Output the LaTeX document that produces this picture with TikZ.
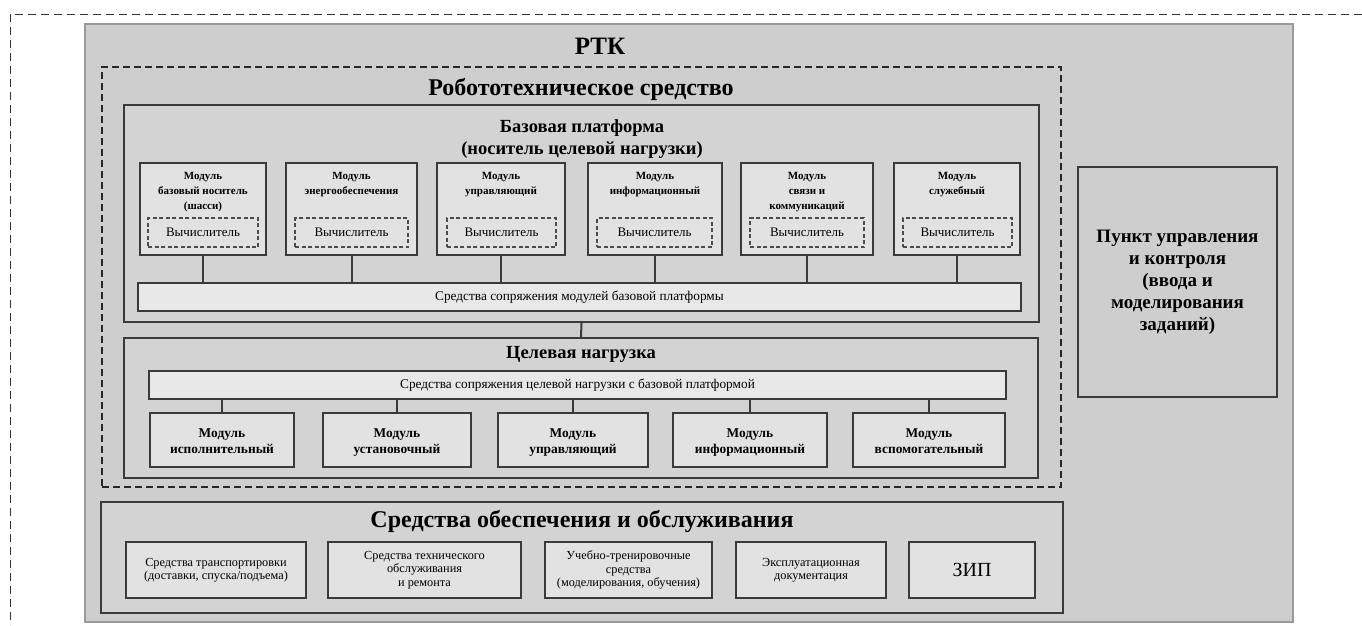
\documentclass[tikz,border=0pt]{standalone}
\usepackage{fontspec}
\setmainfont{Liberation Serif}
\usetikzlibrary{fit}
\definecolor{panelc}{HTML}{CECECE}
\definecolor{panelb}{HTML}{9A9A9A}
\definecolor{secc}{HTML}{D3D3D3}
\definecolor{modc}{HTML}{E2E2E2}
\definecolor{barc}{HTML}{E8E8E8}
\definecolor{linec}{HTML}{3A3A3A}
\tikzset{
  panel/.style={draw=panelb, line width=1.5pt, fill=panelc, inner sep=0pt},
  rtsbox/.style={draw=black!85, line width=2pt, dash pattern=on 7pt off 4pt, inner sep=0pt},
  section/.style={draw=linec, line width=1.8pt, fill=secc, inner sep=0pt},
  modbox/.style={draw=linec, line width=1.8pt, fill=modc, inner sep=0pt},
  calcbox/.style={draw=black!70, line width=1.3pt, dash pattern=on 4pt off 2.5pt, inner sep=0pt},
  barbox/.style={draw=linec, line width=1.6pt, fill=barc, inner sep=0pt},
  conn/.style={draw=linec, line width=2pt},
  bigtitle/.style={font=\bfseries\fontsize{25}{27}\selectfont, inner sep=0pt},
  title/.style={font=\bfseries\fontsize{24}{26}\selectfont, inner sep=0pt},
  subtitle/.style={font=\bfseries\fontsize{18.5}{22}\selectfont, inner sep=0pt, align=center},
  modtext/.style={font=\bfseries\fontsize{11}{15}\selectfont, inner sep=0pt, align=center, anchor=north},
  calctext/.style={font=\fontsize{13}{14}\selectfont, inner sep=0pt},
  bartext/.style={font=\fontsize{13.3}{15}\selectfont, inner sep=0pt},
  tmodtext/.style={font=\bfseries\fontsize{13.4}{15.5}\selectfont, inner sep=0pt, align=center, anchor=north},
  smalltext/.style={font=\fontsize{12.3}{13.5}\selectfont, inner sep=0pt, align=center},
  ziptext/.style={font=\fontsize{20}{22}\selectfont, inner sep=0pt},
  punkttext/.style={font=\bfseries\fontsize{19}{22}\selectfont, inner sep=0pt, align=center}
}
\begin{document}
\begin{tikzpicture}[x=1pt,y=-1pt]
\useasboundingbox (0,0) rectangle (1362,625);
\fill[white] (0,0) rectangle (1362,625);
% outer dashed frame (cropped)
\draw[black!80, line width=1pt, dash pattern=on 8pt off 5pt] (1362,14) -- (10,14) -- (10,625);
% main grey panel
\node[panel, fit={(85,24) (1293,622)}] (rtk) {};
\node[bigtitle] (rtkt) at (600,46) {РТК};
% robotic means
\node[rtsbox, fit={(102,67) (1061,487)}] (rts) {};
\node[title] (rtst) at (581,89) {Робототехническое средство};
% base platform
\node[section, fit={(124,105) (1039,322)}] (base) {};
\node[subtitle] (baset) at (582,139) {Базовая платформа\\(носитель целевой нагрузки)};
% base modules
\node[modbox, fit={(140,163) (266,255)}] (bm1) {};
\node[modbox, fit={(286,163) (417,255)}] (bm2) {};
\node[modbox, fit={(437,163) (565,255)}] (bm3) {};
\node[modbox, fit={(588,163) (722,255)}] (bm4) {};
\node[modbox, fit={(741,163) (873,255)}] (bm5) {};
\node[modbox, fit={(894,163) (1020,255)}] (bm6) {};
\node[modtext] (bm1t) at (203,172) {Модуль\\базовый носитель\\(шасси)};
\node[modtext] (bm2t) at (351.5,172) {Модуль\\энергообеспечения};
\node[modtext] (bm3t) at (501,172) {Модуль\\управляющий};
\node[modtext] (bm4t) at (655,172) {Модуль\\информационный};
\node[modtext] (bm5t) at (807,172) {Модуль\\связи и\\коммуникаций};
\node[modtext] (bm6t) at (957,172) {Модуль\\служебный};
\foreach \i/\a/\b in {1/148/258, 2/295/408, 3/447/556, 4/597/712, 5/750/864, 6/903/1012}{
  \node[calcbox, fit={(\a,218) (\b,247)}] (calc\i) {};
  \node[calctext] (calc\i t) at (calc\i.center) {Вычислитель};
}
% base bar
\node[barbox, fit={(138,283) (1021,311)}] (bar1) {};
\node[bartext] (bar1t) at (bar1.center) {Средства сопряжения модулей базовой платформы};
\foreach \i in {1,...,6}{
  \draw[conn] (bm\i.south) -- (bm\i.south |- bar1.north);
}
% target payload
\node[section, fit={(124,338) (1038,478)}] (target) {};
\draw[conn] (base.south) -- (target.north);
\node[subtitle] (targett) at (581,354) {Целевая нагрузка};
\node[barbox, fit={(149,371) (1006,399)}] (bar2) {};
\node[bartext] (bar2t) at (bar2.center) {Средства сопряжения целевой нагрузки с базовой платформой};
\node[modbox, fit={(150,413) (294,467)}] (tm1) {};
\node[modbox, fit={(323,413) (471,467)}] (tm2) {};
\node[modbox, fit={(498,413) (648,467)}] (tm3) {};
\node[modbox, fit={(673,413) (827,467)}] (tm4) {};
\node[modbox, fit={(853,413) (1005,467)}] (tm5) {};
\node[tmodtext] (tm1t) at (tm1.center |- 0,429) {Модуль\\исполнительный};
\node[tmodtext] (tm2t) at (tm2.center |- 0,429) {Модуль\\установочный};
\node[tmodtext] (tm3t) at (tm3.center |- 0,429) {Модуль\\управляющий};
\node[tmodtext] (tm4t) at (tm4.center |- 0,429) {Модуль\\информационный};
\node[tmodtext] (tm5t) at (tm5.center |- 0,429) {Модуль\\вспомогательный};
\foreach \i in {1,...,5}{
  \draw[conn] (tm\i.north) -- (tm\i.north |- bar2.south);
}
% support means
\node[section, fit={(101,502) (1063,613)}] (supp) {};
\node[title] (suppt) at (582,521) {Средства обеспечения и обслуживания};
\node[modbox, fit={(126,542) (306,598)}] (s1) {};
\node[modbox, fit={(328,542) (521,598)}] (s2) {};
\node[modbox, fit={(545,542) (712,598)}] (s3) {};
\node[modbox, fit={(736,542) (886,598)}] (s4) {};
\node[modbox, fit={(909,542) (1035,598)}] (s5) {};
\node[smalltext] (s1t) at (s1.center) {Средства транспортировки\\(доставки, спуска/подъема)};
\node[smalltext] (s2t) at (s2.center) {Средства технического\\обслуживания\\и ремонта};
\node[smalltext] (s3t) at (s3.center) {Учебно-тренировочные\\средства\\(моделирования, обучения)};
\node[smalltext] (s4t) at (s4.center) {Эксплуатационная\\документация};
\node[ziptext] (s5t) at (s5.center) {ЗИП};
% control point
\node[section, fill=panelc, fit={(1078,167) (1277,397)}] (punkt) {};
\node[punkttext] (punktt) at (punkt.center) {Пункт управления\\и контроля\\(ввода и\\моделирования\\заданий)};
\end{tikzpicture}
\end{document}
